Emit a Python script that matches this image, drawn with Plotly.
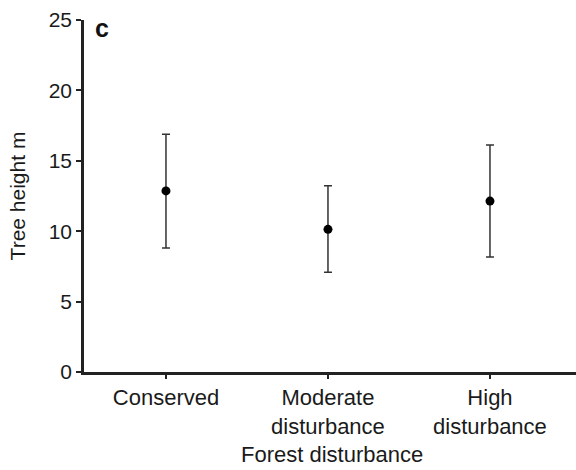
import plotly.graph_objects as go

categories = ["Conserved", "Moderate<br>disturbance", "High<br>disturbance"]
means = [12.86, 10.13, 12.14]
upper = [16.88, 13.23, 16.12]
lower = [8.81, 7.08, 8.17]
x_title = "Forest disturbance"
y_title = "Tree height m"

err_plus = [u - m for u, m in zip(upper, means)]
err_minus = [m - l for m, l in zip(means, lower)]

fig = go.Figure()
fig.add_trace(go.Scatter(
    x=[0, 1, 2], y=means, mode="markers",
    marker=dict(color="black", size=9),
    error_y=dict(type="data", symmetric=False, array=err_plus, arrayminus=err_minus,
                 color="#333", thickness=1.5, width=4),
    showlegend=False, hoverinfo="skip",
))

fam = "Liberation Sans, Arial, sans-serif"
xfont = dict(family=fam, size=22, color="#1a1a1a")
yfont = dict(family=fam, size=21, color="#1a1a1a")
fig.update_layout(
    width=576, height=470,
    margin=dict(l=84, r=0, t=20, b=98),
    paper_bgcolor="white", plot_bgcolor="white",
    font=xfont,
    xaxis=dict(
        range=[-0.506, 2.531], tickmode="array", tickvals=[0, 1, 2], ticktext=categories,
        tickfont=xfont,
        showline=True, linecolor="#222", linewidth=2.5, ticks="outside", ticklen=4,
        tickwidth=2, tickcolor="#222", showgrid=False, zeroline=False, automargin=False,
    ),
    yaxis=dict(
        range=[0, 25], tickvals=[0, 5, 10, 15, 20, 25], tickfont=yfont,
        showline=True, linecolor="#222", linewidth=2.5, ticks="outside", ticklen=5,
        tickwidth=2, tickcolor="#222", showgrid=False, zeroline=False, automargin=False,
        title=dict(text=y_title, standoff=18, font=yfont),
    ),
    annotations=[
        dict(text="<b>c</b>", x=0.02, y=0.977, xref="paper", yref="paper",
             xanchor="left", yanchor="middle", showarrow=False, borderpad=0,
             font=dict(family=fam, size=25, color="#111")),
        dict(text=x_title, x=0.504, y=-0.235, xref="paper", yref="paper",
             xanchor="center", yanchor="middle", showarrow=False, borderpad=0,
             font=xfont),
    ],
)

fig.write_html("out.html", config={"displayModeBar": False},
               post_script="document.body.style.margin='0';")
